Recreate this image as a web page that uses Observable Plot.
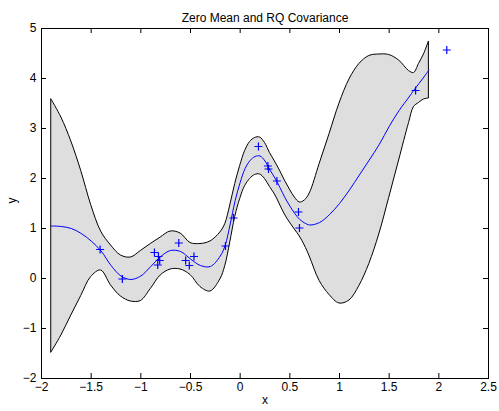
<!DOCTYPE html>
<html>
<head>
<meta charset="utf-8">
<script src="https://cdn.jsdelivr.net/npm/d3@7"></script>
<script src="https://cdn.jsdelivr.net/npm/@observablehq/plot@0.6"></script>
<style>
  html, body { margin: 0; padding: 0; background: #fff; }
</style>
</head>
<body>
<div id="chart"></div>
<script>
// ---- data ----
const title = "Zero Mean and RQ Covariance";
const xLabel = "x";
const yLabel = "y";

// predictive grid
const gridX = [-1.9,-1.8,-1.7,-1.6,-1.5,-1.4,-1.3,-1.2,-1.1,-1.0,-0.9,-0.8,-0.7,-0.6,-0.5,-0.4,-0.3,-0.2,
  -0.15,-0.1,-0.05,0,0.05,0.1,0.15,0.2,0.25,0.3,0.35,0.4,0.45,0.5,0.55,0.6,0.65,
  0.7,0.8,0.9,1.0,1.1,1.2,1.3,1.4,1.5,1.6,1.7,
  1.75,1.8,1.85,1.9];
const gridMean = [1.05,1.04,1.00,0.90,0.75,0.55,0.26,0.05,-0.02,0.05,0.24,0.44,0.56,0.54,0.39,0.26,0.24,0.45,
  0.67,1.09,1.56,1.92,2.2,2.36,2.44,2.45,2.35,2.17,2.01,1.82,1.62,1.45,1.3,1.18,1.11,
  1.07,1.12,1.28,1.50,1.77,2.07,2.37,2.68,3.04,3.36,3.63,
  3.77,3.90,4.03,4.17];
// half width of the shaded band (2 standard deviations)
const gridBand = [2.53,2.18,1.74,1.25,0.72,0.39,0.40,0.41,0.44,0.50,0.45,0.38,0.38,0.36,0.32,0.43,0.50,0.47,
  0.42,0.37,0.33,0.33,0.35,0.37,0.37,0.37,0.36,0.34,0.33,0.34,0.34,0.33,0.32,0.34,0.45,
  0.63,1.17,1.61,2.0,2.21,2.22,2.08,1.8,1.43,1.0,0.52,
  0.34,0.39,0.45,0.57];

// training points
const obsX = [-1.41,-1.186,-0.863,-0.823,-0.81,-0.83,-0.618,-0.549,-0.512,-0.465,-0.148,-0.067,0.184,0.279,0.285,0.37,0.587,0.597,1.766,2.08];
const obsY = [0.58,-0.01,0.52,0.44,0.36,0.27,0.71,0.36,0.26,0.44,0.65,1.21,2.64,2.25,2.19,1.95,1.33,1.01,3.76,4.57];

const xTicks = [-2,-1.5,-1,-0.5,0,0.5,1,1.5,2,2.5];
const yTicks = [-2,-1,0,1,2,3,4,5];

// ---- layout ----
const W = 499, H = 411;
const mL = 41, mR = 11, mT = 28, mB = 33;
const fw = W - mL - mR, fh = H - mT - mB;
const tickLen = 5;

const grid = gridX.map((x, i) => ({x, mean: gridMean[i], lo: gridMean[i] - gridBand[i], hi: gridMean[i] + gridBand[i]}));
const obs = obsX.map((x, i) => ({x, y: obsY[i]}));

const plusSymbol = {
  draw(ctx, size) {
    const r = Math.sqrt(size / Math.PI);
    ctx.moveTo(-r, 0); ctx.lineTo(r, 0);
    ctx.moveTo(0, -r); ctx.lineTo(0, r);
  }
};

const fmt = d => (d < 0 ? "\u2212" : "") + Math.abs(d);

const chart = Plot.plot({
  width: W, height: H,
  marginLeft: mL, marginRight: mR, marginTop: mT, marginBottom: mB,
  style: {fontFamily: "'Liberation Sans', Arial, Helvetica, sans-serif", fontSize: "12px", background: "#fff", color: "#000"},
  x: {domain: [-2, 2.5]},
  y: {domain: [-2, 5]},
  marks: [
    Plot.areaY(grid, {x: "x", y1: "lo", y2: "hi", fill: "#dedede", stroke: "#000", strokeWidth: 1, curve: "catmull-rom"}),
    Plot.line(grid, {x: "x", y: "mean", stroke: "#0000ff", strokeWidth: 1, curve: "catmull-rom"}),
    Plot.dot(obs, {x: "x", y: "y", symbol: plusSymbol, r: 4, stroke: "#0000ff", fill: "none", strokeWidth: 1.2}),
    Plot.frame({stroke: "#000", strokeWidth: 1}),
    // inward ticks on all four sides
    Plot.tickX(xTicks, {x: d => d, insetTop: fh - tickLen, stroke: "#000"}),
    Plot.tickX(xTicks, {x: d => d, insetBottom: fh - tickLen, stroke: "#000"}),
    Plot.tickY(yTicks, {y: d => d, insetRight: fw - tickLen, stroke: "#000"}),
    Plot.tickY(yTicks, {y: d => d, insetLeft: fw - tickLen, stroke: "#000"}),
    Plot.axisX(xTicks, {anchor: "bottom", tickSize: 0, tickPadding: 4, tickFormat: fmt, label: null, fontSize: 12}),
    Plot.axisY(yTicks, {anchor: "left", tickSize: 0, tickPadding: 5, tickFormat: fmt, label: null, fontSize: 12}),
    Plot.text([xLabel], {text: d => d, frameAnchor: "bottom", dy: 25, fontSize: 12}),
    Plot.text([yLabel], {text: d => d, frameAnchor: "left", dx: -29, rotate: -90, fontSize: 12}),
    Plot.text([title], {text: d => d, frameAnchor: "top", dy: -15, fontSize: 12})
  ]
});
document.getElementById("chart").appendChild(chart);
</script>
</body>
</html>
